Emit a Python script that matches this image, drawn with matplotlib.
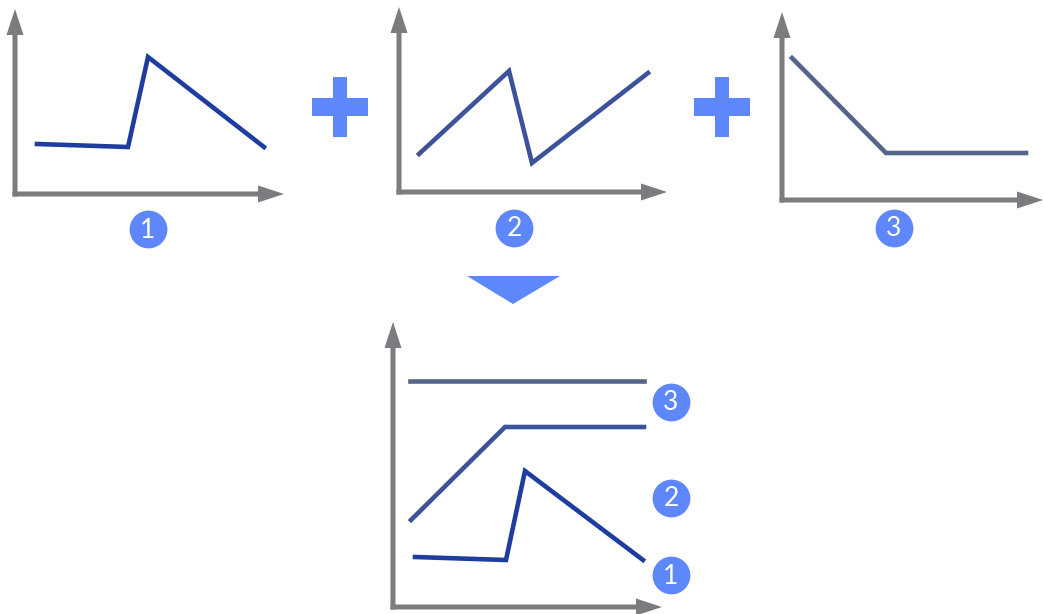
import matplotlib

matplotlib.use("Agg")
import matplotlib.pyplot as plt
from matplotlib.patches import Polygon, Rectangle

# Series (x, y in the panel's own units, origin at the axis corner)
step1_x = [22, 113, 133, 249]
step1_y = [50, 47, 137, 47]

step2_x = [20, 110, 133, 249]
step2_y = [38, 121, 29, 119]

step3_x = [10, 104, 244]
step3_y = [142, 47, 47]

sum1_x = [22, 113, 132, 250]
sum1_y = [50, 47, 136, 47]
sum2_x = [18, 112, 251]
sum2_y = [87, 180, 180]
sum3_x = [17, 251]
sum3_y = [226, 226]

labels = ["1", "2", "3"]

W, H = 1044, 614
AXIS_GREY = "#7b7b80"
ACCENT = "#5d87fb"
LINE_COLORS = ["#1e3d9e", "#3c5399", "#56638b"]


def panel(fig, ox, oy, w, h):
    """Axes whose origin sits at pixel (ox, oy), spanning w x h pixels."""
    ax = fig.add_axes((ox / W, (H - oy) / H, w / W, h / H))
    ax.set_xlim(0, w)
    ax.set_ylim(0, h)
    ax.axis("off")
    # one data unit == one pixel here, so the arrows can be sized in pixels
    style = dict(width=5, head_width=17, head_length=26, length_includes_head=True,
                 color=AXIS_GREY, lw=0, clip_on=False)
    ax.arrow(-2.5, 0, w + 2.5, 0, **style)
    ax.arrow(0, -2.5, 0, h + 2.5, **style)
    return ax


def badge(ax, x, y, text):
    ax.scatter([x], [y], s=740, color=ACCENT, zorder=5, clip_on=False,
               linewidths=0)
    ax.text(x, y - 1, text, color="white", fontsize=19, ha="center",
            va="center", family=["Lato", "DejaVu Sans"], zorder=6,
            clip_on=False)


fig = plt.figure(figsize=(W / 100, H / 100), dpi=100)

# top row: three separate components
ax1 = panel(fig, 15, 194, 269, 185)
ax1.plot(step1_x, step1_y, color=LINE_COLORS[0], lw=3.3, solid_joinstyle="miter",
         clip_on=False)
badge(ax1, 133, -35, labels[0])

ax2 = panel(fig, 399, 192, 268, 185)
ax2.plot(step2_x, step2_y, color=LINE_COLORS[1], lw=3.3, solid_joinstyle="miter",
         clip_on=False)
badge(ax2, 115, -36, labels[1])

ax3 = panel(fig, 782, 200, 261, 188)
ax3.plot(step3_x, step3_y, color=LINE_COLORS[2], lw=3.3, solid_joinstyle="miter",
         clip_on=False)
badge(ax3, 112, -28, labels[2])

# bottom: combined result
axs = panel(fig, 393, 607, 269, 285)
axs.plot(sum3_x, sum3_y, color=LINE_COLORS[2], lw=3.3, clip_on=False)
axs.plot(sum2_x, sum2_y, color=LINE_COLORS[1], lw=3.3, solid_joinstyle="miter",
         clip_on=False)
axs.plot(sum1_x, sum1_y, color=LINE_COLORS[0], lw=3.3, solid_joinstyle="miter",
         clip_on=False)
badge(axs, 278, 205, labels[2])
badge(axs, 278, 109, labels[1])
badge(axs, 278, 32, labels[0])

# overlay for the plus signs and the down arrow (pixel coordinates)
over = fig.add_axes((0, 0, 1, 1), zorder=-1)
over.set_xlim(0, W)
over.set_ylim(H, 0)
over.axis("off")
for cx in (340, 722):
    over.add_patch(Rectangle((cx - 7, 77), 14, 60, color=ACCENT, lw=0))
    over.add_patch(Rectangle((cx - 28, 98), 56, 18, color=ACCENT, lw=0))
over.add_patch(Polygon([(467, 276), (560, 276), (513, 304)], closed=True,
                       color=ACCENT, lw=0))

fig.savefig("out.png", dpi=100)
